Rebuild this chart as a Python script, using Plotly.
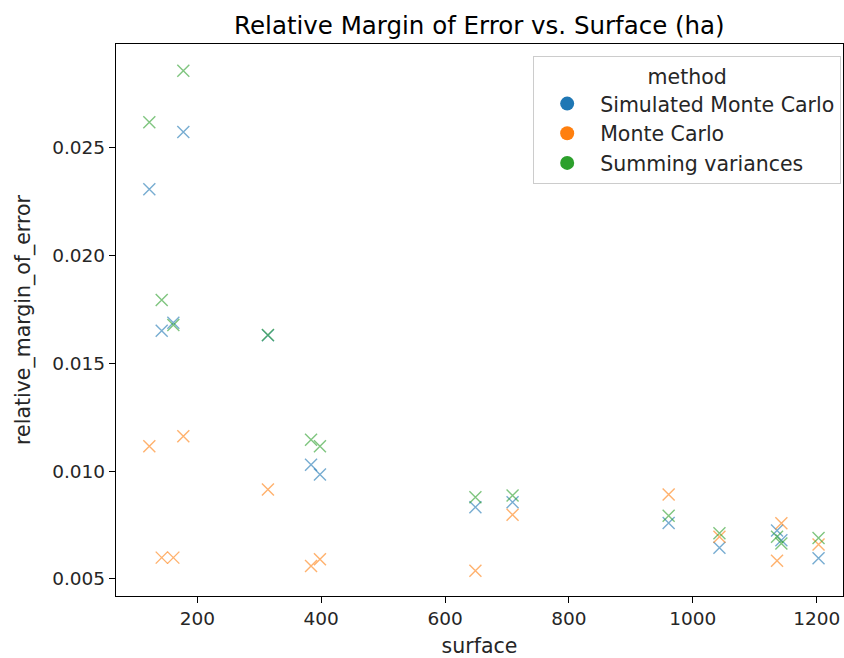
import plotly.graph_objects as go

surface = [122.5, 142.5, 161.3, 177.4, 314, 383.6, 398, 649, 709, 961, 1043, 1136, 1143, 1203]

sim_mc = [0.02307, 0.01651, 0.01688, 0.02573, 0.01630, 0.01030, 0.00985, 0.00833, 0.00856,
          0.00760, 0.00645, 0.00725, 0.00680, 0.00596]
monte_carlo = [0.01116, 0.00599, 0.00599, 0.01162, 0.00915, 0.00560, 0.00591, 0.00538, 0.00798,
               0.00892, 0.00696, 0.00585, 0.00758, 0.00660]
summing_var = [0.02618, 0.01794, 0.01678, 0.02857, 0.01631, 0.01146, 0.01115, 0.00879, 0.00887,
               0.00793, 0.00712, 0.00696, 0.00665, 0.00690]

methods = ["Simulated Monte Carlo", "Monte Carlo", "Summing variances"]
series = [sim_mc, monte_carlo, summing_var]
colors = ["#1f77b4", "#ff7f0e", "#2ca02c"]

y_ticks = [0.005, 0.010, 0.015, 0.020, 0.025]
x_ticks = [200, 400, 600, 800, 1000, 1200]

FONT = "DejaVu Sans"
fig = go.Figure()

for name, vals, col in zip(methods, series, colors):
    fig.add_trace(go.Scatter(
        x=surface, y=vals, mode="markers", name=name, showlegend=False,
        marker=dict(symbol="x-thin", size=12, opacity=0.6,
                    line=dict(color=col, width=1.4), color=col),
    ))

for name, col in zip(methods, colors):
    fig.add_trace(go.Scatter(
        x=[None], y=[None], mode="markers", name=name, showlegend=True,
        marker=dict(symbol="circle", size=14, color=col),
    ))

fig.update_layout(
    width=844, height=658,
    margin=dict(l=116, r=1, t=44, b=62, autoexpand=False),
    paper_bgcolor="white", plot_bgcolor="white",
    font=dict(family=FONT, size=18, color="#262626"),
    title=dict(text="Relative Margin of Error vs. Surface (ha)", x=0.568, xanchor="center",
               y=0.962, yanchor="middle", font=dict(size=24.5, color="black")),
    legend=dict(
        title=dict(text="method", side="top center", font=dict(size=20.5)),
        x=0.9975, xanchor="right", y=0.978, yanchor="top",
        bordercolor="#cccccc", borderwidth=1, bgcolor="rgba(255,255,255,0.8)",
        font=dict(size=20.5), itemwidth=56, tracegroupgap=0,
    ),
    xaxis=dict(
        range=[68.7, 1242.5], tickvals=x_ticks, showgrid=False, zeroline=False,
        showline=True, mirror=True, linecolor="black", linewidth=1.3, automargin=False,
        ticks="outside", ticklen=6, tickwidth=1.3, tickcolor="black",
        tickfont=dict(size=18.5, color="#262626"),
        title=dict(text="surface", standoff=14, font=dict(size=20.5, color="#262626")),
    ),
    yaxis=dict(
        range=[0.00421, 0.02981], tickvals=y_ticks, tickformat=".3f", showgrid=False,
        zeroline=False, showline=True, mirror=True, linecolor="black", linewidth=1.3,
        automargin=False,
        ticks="outside", ticklen=6, tickwidth=1.3, tickcolor="black",
        tickfont=dict(size=18.5, color="#262626"),
        title=dict(text="relative_margin_of_error", standoff=16, font=dict(size=20.5, color="#262626")),
    ),
)

fig.write_html("out.html", config={"displayModeBar": False},
               post_script="document.body.style.margin='0px';")
